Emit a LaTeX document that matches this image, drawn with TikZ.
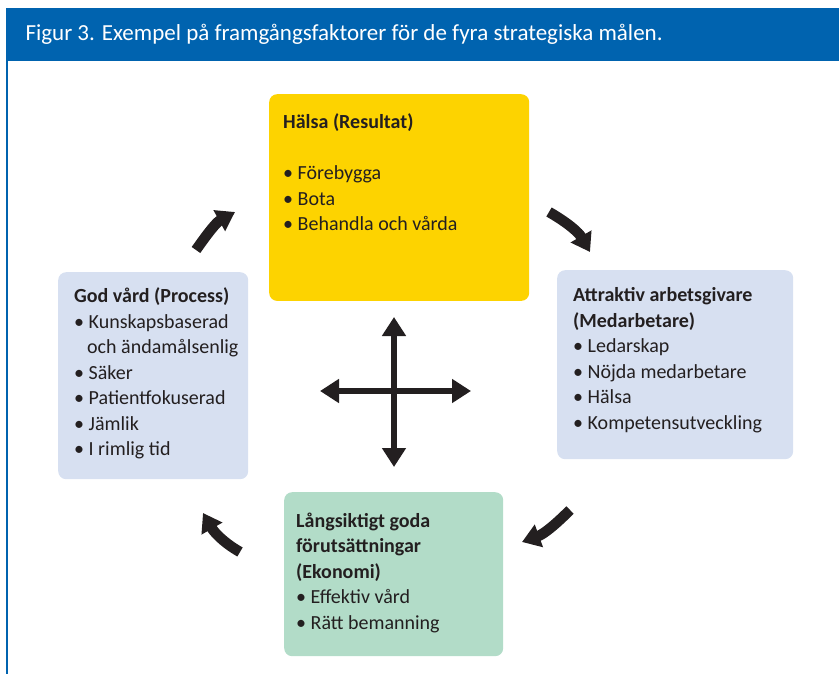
\documentclass[tikz,border=0pt]{standalone}
\usepackage{fontspec}
\setmainfont{Carlito}
\usetikzlibrary{positioning,arrows.meta}
\definecolor{figblue}{RGB}{0,99,175}
\definecolor{goalyellow}{RGB}{253,211,0}
\definecolor{goalblue}{RGB}{215,224,241}
\definecolor{goalgreen}{RGB}{178,220,200}
\definecolor{ink}{RGB}{35,31,32}

\begin{document}
\begin{tikzpicture}[x=1pt,y=1pt,
    box/.style={rectangle,rounded corners=8pt,anchor=north west,inner sep=0pt},
    txt/.style={align=left,inner sep=0pt,text=ink,font=\fontsize{20}{25.5}\selectfont},
    crossarr/.style={ink,line width=6.8pt,{Triangle[length=19pt,width=23pt]}-{Triangle[length=19pt,width=23pt]}},
    roundarr/.style={ink,line width=10.5pt,-{Triangle[length=18pt,width=23pt]}}]
  \useasboundingbox (0,0) rectangle (839,-674);
  % header
  \node[fill=figblue,anchor=north west,minimum width=833pt,minimum height=52.7pt,inner sep=0pt] (head) at (6,-8) {};
  \node[text=white,font=\fontsize{23}{28}\selectfont,anchor=base west] (title) at (22,-41) {Figur 3. Exempel på framgångsfaktorer för de fyra strategiska målen.};
  \draw[figblue,line width=1.3pt] (7,-60.7) -- (7,-674);
  % the four goals
  \node[box,fill=goalyellow,minimum width=260pt,minimum height=206.7pt] (halsa) at (269,-94) {};
  \node[box,fill=goalblue,minimum width=236pt,minimum height=189pt] (medarb) at (557,-270) {};
  \node[box,fill=goalblue,minimum width=190pt,minimum height=207pt] (process) at (58,-272) {};
  \node[box,fill=goalgreen,minimum width=219pt,minimum height=164pt] (ekonomi) at (284,-492) {};
  \node[txt,below right=19.5pt and 14pt of halsa.north west] (halsa-txt)
    {\textbf{Hälsa (Resultat)}\\[25.5pt]\textbullet{} Förebygga\\\textbullet{} Bota\\\textbullet{} Behandla och vårda};
  \node[txt,below right=17.5pt and 16pt of medarb.north west] (medarb-txt)
    {\textbf{Attraktiv arbetsgivare}\\\textbf{(Medarbetare)}\\\textbullet{} Ledarskap\\\textbullet{} Nöjda medarbetare\\\textbullet{} Hälsa\\\textbullet{} Kompetensutveckling};
  \node[txt,below right=15.5pt and 16pt of process.north west] (process-txt)
    {\textbf{God vård (Process)}\\\textbullet{} Kunskapsbaserad\\\hspace*{13pt}och ändamålsenlig\\\textbullet{} Säker\\\textbullet{} Patientfokuserad\\\textbullet{} Jämlik\\\textbullet{} I rimlig tid};
  \node[txt,below right=20.5pt and 12pt of ekonomi.north west] (ekonomi-txt)
    {\textbf{Långsiktigt goda}\\\textbf{förutsättningar}\\\textbf{(Ekonomi)}\\\textbullet{} Effektiv vård\\\textbullet{} Rätt bemanning};
  % cross in the middle
  \coordinate (c-n) at (394,-317);
  \coordinate (c-s) at (394,-467);
  \coordinate (c-w) at (320,-391);
  \coordinate (c-e) at (471,-391);
  \draw[crossarr] (c-w) -- (c-e);
  \draw[crossarr] (c-n) -- (c-s);
  % arrows round the cycle
  \coordinate (pr-out) at (196,-250);
  \coordinate (ha-in) at (235,-212);
  \coordinate (ha-out) at (549,-212);
  \coordinate (me-in) at (590,-252);
  \coordinate (me-out) at (570,-510);
  \coordinate (ek-in) at (522,-542);
  \coordinate (ek-out) at (240,-552);
  \coordinate (pr-in) at (203,-513);
  \draw[roundarr] (pr-out) to[out=55,in=209] (ha-in);
  \draw[roundarr] (ha-out) to[out=-30,in=120] (me-in);
  \draw[roundarr] (me-out) to[out=225,in=20] (ek-in);
  \draw[roundarr] (ek-out) to[out=150,in=300] (pr-in);
\end{tikzpicture}
\end{document}
